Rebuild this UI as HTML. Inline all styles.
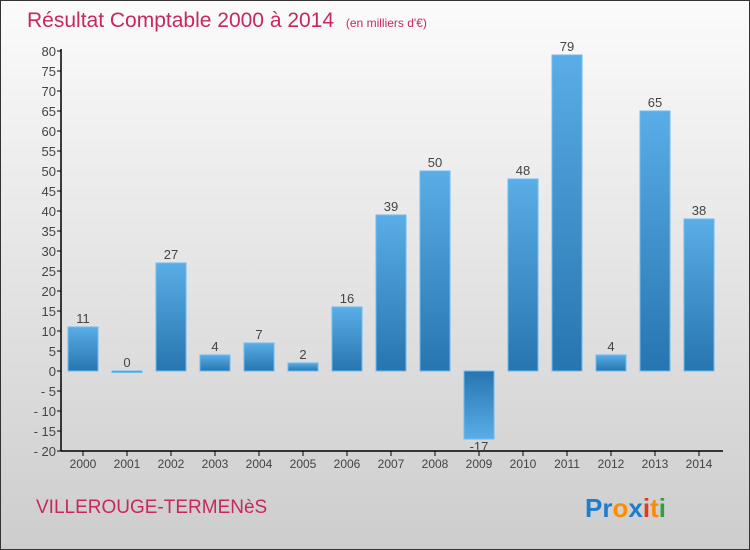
<!DOCTYPE html>
<html><head><meta charset="utf-8"><style>
body{margin:0}
#wrap{width:748px;height:548px;border:1px solid #333;background:linear-gradient(#fbfbfb,#cdcdcd);position:relative;overflow:hidden;font-family:"Liberation Sans",sans-serif}
</style></head><body>
<div id="wrap">
<svg width="748" height="548" style="position:absolute;left:0;top:0" id="svg">
<defs><linearGradient id="g" x1="0" y1="0" x2="0" y2="1"><stop offset="0" stop-color="#5aade6"/><stop offset="1" stop-color="#2775b0"/></linearGradient>
<linearGradient id="gn" x1="0" y1="0" x2="0" y2="1"><stop offset="0" stop-color="#2775b0"/><stop offset="1" stop-color="#5aade6"/></linearGradient></defs>
<text x="26" y="26" font-size="21" fill="#c8285c">Résultat Comptable 2000 à 2014 <tspan font-size="12" dx="6">(en milliers d'€)</tspan></text>
<text x="35" y="512" font-size="19" fill="#c8285c">VILLEROUGE-TERMENèS</text>
<text x="584" y="516" font-size="26" font-weight="bold"><tspan fill="#1d7ed0">Pr</tspan><tspan fill="#ff8c00">o</tspan><tspan fill="#1d7ed0">x</tspan><tspan fill="#e8361a">i</tspan><tspan fill="#ff8c00">t</tspan><tspan fill="#2ea040">i</tspan></text>
<g id="plot"></g>
</svg>
</div>
<script>
const years=["2000","2001","2002","2003","2004","2005","2006","2007","2008","2009","2010","2011","2012","2013","2014"];
const values=[11,0,27,4,7,2,16,39,50,-17,48,79,4,65,38];
const yTicks=[80,75,70,65,60,55,50,45,40,35,30,25,20,15,10,5,0,-5,-10,-15,-20];
const NS="http://www.w3.org/2000/svg";
const g=document.getElementById('plot');
const y=v=>370-v*4;
const x=i=>82+i*44;
function mk(t,a){const e=document.createElementNS(NS,t);for(const k in a)e.setAttribute(k,a[k]);g.appendChild(e);return e;}
let ax=mk('line',{x1:60,y1:48,x2:60,y2:450,stroke:'#000','stroke-width':1.5});


let xa=mk('line',{x1:60,y1:450,x2:722,y2:450,stroke:'#000','stroke-width':1.5});


yTicks.forEach(v=>{
 mk('line',{x1:56,y1:y(v),x2:60,y2:y(v),stroke:'#000'});
 let t=mk('text',{x:55,y:y(v)+5,'text-anchor':'end','font-size':13,fill:'#444'});
 t.textContent=v<0?'- '+(-v):v;
 
 
});
years.forEach((yr,i)=>{
 const v=values[i];
 mk('line',{x1:x(i),y1:450,x2:x(i),y2:455,stroke:'#000'});
 let t=mk('text',{x:x(i),y:467,'text-anchor':'middle','font-size':12,fill:'#444'});
 t.textContent=yr;
 
 
 const top=Math.min(y(v),y(0)),h=Math.max(Math.abs(y(v)-y(0)),1.5);
 let b=mk('rect',{x:x(i)-15,y:top,width:30,height:h,fill:v<0?'url(#gn)':'url(#g)',stroke:'#6cbcf0','stroke-width':1});
 
 
 let l=mk('text',{x:x(i),y:v<0?y(v)+12:y(v)-4,'text-anchor':'middle','font-size':13,fill:'#444'});
 l.textContent=v<0?'-'+(-v):v;
 
 
});
</script>
</body></html>
